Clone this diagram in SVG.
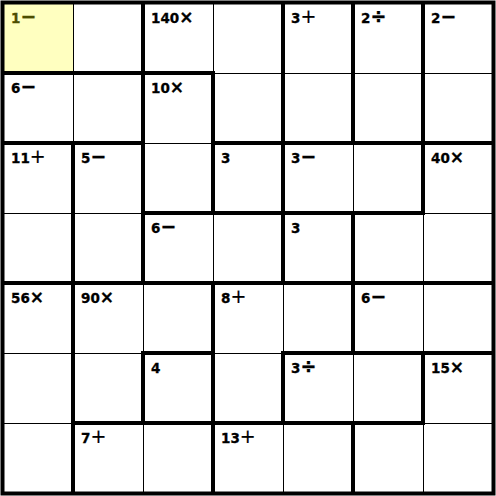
<svg xmlns="http://www.w3.org/2000/svg" width="496" height="496" viewBox="0 0 496 496">
<style>
.thin{stroke:#000;stroke-width:1;fill:none}
.thick{stroke:#000;stroke-width:4;fill:none;stroke-linecap:square}
text{font-family:"DejaVu Sans","Liberation Sans",sans-serif;font-weight:bold;font-size:13.5px;fill:#000;stroke:#000;stroke-width:0.3}
.op{font-size:17px}
.mi{font-size:19px}
.pl{font-size:19px;font-weight:normal;stroke-width:0.2}
.sel text{fill:#4d4d00;stroke:#4d4d00}
</style>
<rect x="0" y="0" width="496" height="496" fill="#fff"/>
<g id="cage-1minus" class="sel"><rect x="3" y="3" width="70" height="70" fill="#ffffc0"/><text x="11" y="23">1<tspan class="mi">−</tspan></text></g>
<g id="cage-140x"><text x="151" y="23">140<tspan class="op">×</tspan></text></g>
<g id="cage-3plus-a"><text x="291" y="23">3<tspan class="pl">+</tspan></text></g>
<g id="cage-2div"><text x="361" y="23">2<tspan class="mi">÷</tspan></text></g>
<g id="cage-2minus"><text x="431" y="23">2<tspan class="mi">−</tspan></text></g>
<g id="cage-6minus-a"><text x="11" y="93">6<tspan class="mi">−</tspan></text></g>
<g id="cage-10x"><text x="151" y="93">10<tspan class="op">×</tspan></text></g>
<g id="cage-11plus"><text x="11" y="163">11<tspan class="pl">+</tspan></text></g>
<g id="cage-5minus"><text x="81" y="163">5<tspan class="mi">−</tspan></text></g>
<g id="cage-3-a"><text x="221" y="163">3</text></g>
<g id="cage-3minus"><text x="291" y="163">3<tspan class="mi">−</tspan></text></g>
<g id="cage-40x"><text x="431" y="163">40<tspan class="op">×</tspan></text></g>
<g id="cage-6minus-b"><text x="151" y="233">6<tspan class="mi">−</tspan></text></g>
<g id="cage-3-b"><text x="291" y="233">3</text></g>
<g id="cage-56x"><text x="11" y="303">56<tspan class="op">×</tspan></text></g>
<g id="cage-90x"><text x="81" y="303">90<tspan class="op">×</tspan></text></g>
<g id="cage-8plus"><text x="221" y="303">8<tspan class="pl">+</tspan></text></g>
<g id="cage-6minus-c"><text x="361" y="303">6<tspan class="mi">−</tspan></text></g>
<g id="cage-4"><text x="151" y="373">4</text></g>
<g id="cage-3div"><text x="291" y="373">3<tspan class="mi">÷</tspan></text></g>
<g id="cage-15x"><text x="431" y="373">15<tspan class="op">×</tspan></text></g>
<g id="cage-7plus"><text x="81" y="443">7<tspan class="pl">+</tspan></text></g>
<g id="cage-13plus"><text x="221" y="443">13<tspan class="pl">+</tspan></text></g>
<g id="connectors">
<path class="thin" d="M73.5 3V493M143.5 3V493M213.5 3V493M283.5 3V493M353.5 3V493M423.5 3V493M3 73.5H493M3 143.5H493M3 213.5H493M3 283.5H493M3 353.5H493M3 423.5H493"/>
<path class="thick" d="M73 143V493M143 3V283M143 353V423M213 73V213M213 283V493M283 3V283M283 353V423M353 3V143M353 213V353M353 423V493M423 3V213M423 353V423M3 73H213M3 143H143M213 143H493M143 213H423M3 283H493M143 353H213M283 353H493M73 423H423"/>
<rect class="thick" x="2.5" y="2.5" width="491" height="491" stroke-linecap="butt"/>
</g>
</svg>
